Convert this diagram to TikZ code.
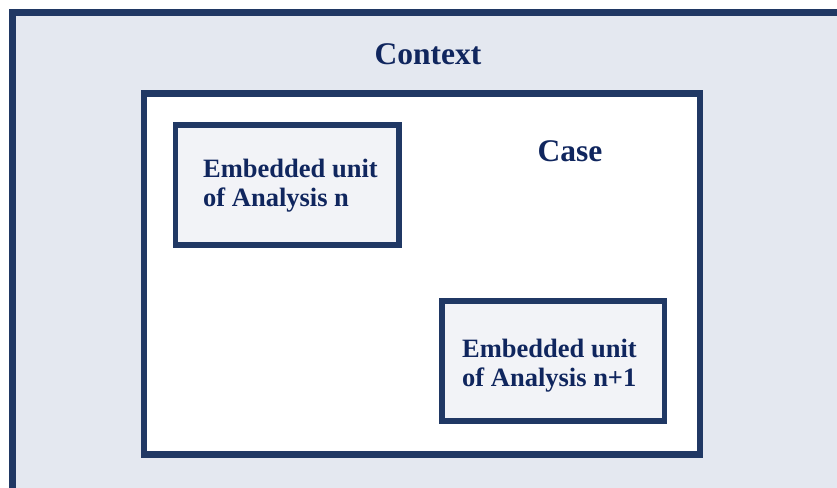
\documentclass[tikz,border=0pt]{standalone}
\usepackage{fontspec}
\setmainfont{Liberation Serif}
\definecolor{navy}{RGB}{32,56,100}
\definecolor{inknavy}{RGB}{16,38,94}
\definecolor{ctxfill}{RGB}{228,232,240}
\definecolor{unitfill}{RGB}{242,243,247}
\tikzset{
  frame/.style={draw=navy, rectangle, inner sep=0pt, outer sep=0pt},
  title/.style={text=inknavy, font=\bfseries\fontsize{31.5}{36}\selectfont, inner sep=0pt},
  unittext/.style={text=inknavy, font=\bfseries\fontsize{26.5}{29.5}\selectfont, align=left, inner sep=0pt, anchor=base west}
}
\begin{document}
\begin{tikzpicture}[x=1pt, y=-1pt]
  \useasboundingbox (0,0) rectangle (837,487);
  \fill[white] (0,0) rectangle (837,487);
  \clip (0,0) rectangle (837,487);
  % context frame, running off the right and bottom edges
  \node[frame, fill=ctxfill, line width=7pt, anchor=north west,
        minimum width=900pt, minimum height=600pt] (context) at (12.5,13) {};
  \node[title, anchor=base] (contextlabel) at (428,64) {Context};
  % case
  \node[frame, fill=white, line width=6.5pt,
        minimum width=556pt, minimum height=361pt] (case) at (422,274) {};
  \node[title, anchor=base] (caselabel) at (570,161) {Case};
  % embedded units (base anchor sits on the last line)
  \node[frame, fill=unitfill, line width=5.5pt,
        minimum width=223.5pt, minimum height=120pt] (unitn) at (287,185) {};
  \node[unittext] (unitnlabel) at (203,206.5) {Embedded unit\\of Analysis n};
  \node[frame, fill=unitfill, line width=5.5pt,
        minimum width=222.5pt, minimum height=120pt] (unitm) at (553,361) {};
  \node[unittext] (unitmlabel) at (462,386.5) {Embedded unit\\of Analysis n+1};
\end{tikzpicture}
\end{document}
